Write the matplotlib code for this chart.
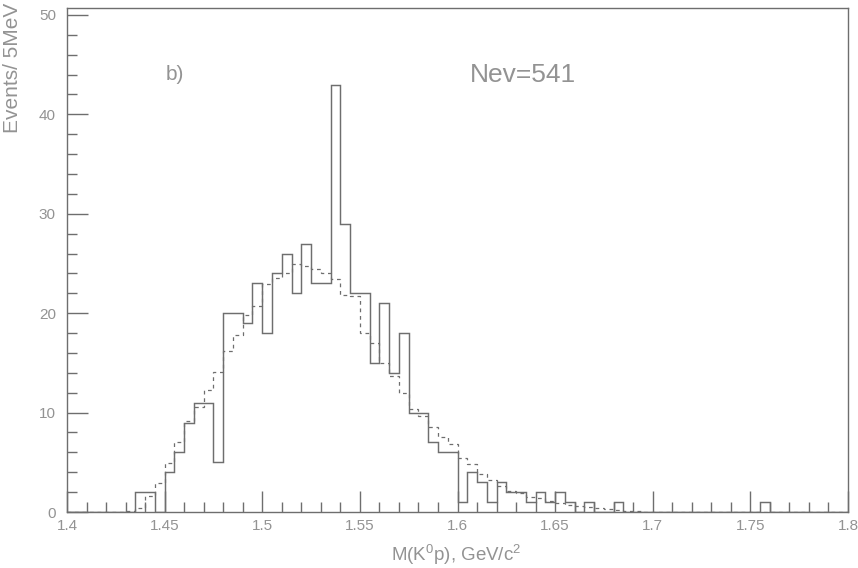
import numpy as np
import matplotlib
matplotlib.use("Agg")
import matplotlib.pyplot as plt
from matplotlib.ticker import MultipleLocator

plt.rcParams['font.family'] = ['Liberation Sans', 'DejaVu Sans']
plt.rcParams['mathtext.fontset'] = 'custom'
plt.rcParams['mathtext.rm'] = 'Liberation Sans'
plt.rcParams['mathtext.it'] = 'Liberation Sans'

# 5 MeV bins from 1.40 to 1.80 GeV
mass_lo = 1.40
mass_hi = 1.80
n_bins = 80

counts = [0, 0, 0, 0, 0, 0, 0, 2, 2, 0,
          4, 6, 9, 11, 11, 5, 20, 20, 19, 23,
          18, 24, 26, 22, 27, 23, 23, 43, 29, 22,
          22, 15, 21, 14, 18, 10, 10, 7, 6, 6,
          1, 4, 3, 1, 3, 2, 2, 1, 2, 1,
          2, 1, 0, 1, 0, 0, 1, 0, 0, 0,
          0, 0, 0, 0, 0, 0, 0, 0, 0, 0,
          0, 1, 0, 0, 0, 0, 0, 0, 0, 0]

background = [0, 0, 0, 0, 0, 0, 0.1, 0.4, 1.6, 2.9,
              4.9, 7.0, 9.2, 10.6, 12.3, 14.1, 16.2, 17.8, 19.8, 20.7,
              22.9, 23.5, 24.0, 24.9, 24.7, 24.4, 24.0, 23.4, 21.8, 21.7,
              18.0, 17.0, 15.0, 13.7, 12.0, 10.4, 9.7, 8.6, 7.5, 6.8,
              5.4, 4.8, 3.8, 3.2, 2.6, 2.1, 1.9, 1.5, 1.4, 1.1,
              0.9, 0.7, 0.6, 0.5, 0.4, 0.3, 0.2, 0.15, 0.1, 0.05,
              0, 0, 0, 0, 0, 0, 0, 0, 0, 0,
              0, 0, 0, 0, 0, 0, 0, 0, 0, 0]

x_ticks = [1.4, 1.45, 1.5, 1.55, 1.6, 1.65, 1.7, 1.75, 1.8]
x_ticklabels = ["1.4", "1.45", "1.5", "1.55", "1.6", "1.65", "1.7", "1.75", "1.8"]
y_ticks = [0, 10, 20, 30, 40, 50]

edges = np.linspace(mass_lo, mass_hi, n_bins + 1)

line_col = '#6e6e6e'
text_col = '#939393'

fig = plt.figure(figsize=(8.58, 5.68), dpi=100)
ax = fig.add_axes([67/858, 1 - 512/568, (848 - 67)/858, (512 - 8)/568])

ax.stairs(counts, edges, color=line_col, lw=1.05)
ax.stairs(background, edges, color=line_col, lw=0.9, linestyle=(0, (3, 3)))

ax.set_xlim(mass_lo, mass_hi)
ax.set_ylim(0, 50.7)

ax.set_xticks(x_ticks)
ax.set_xticklabels(x_ticklabels)
ax.set_yticks(y_ticks)
ax.xaxis.set_minor_locator(MultipleLocator(0.01))
ax.yaxis.set_minor_locator(MultipleLocator(2))

ax.tick_params(which='major', direction='in', length=15, width=1.0, color=line_col,
               labelcolor=text_col, labelsize=11)
ax.tick_params(which='minor', direction='in', length=7, width=1.0, color=line_col)
ax.tick_params(axis='x', which='major', pad=5)
ax.tick_params(axis='y', which='major', pad=8)

for sp in ax.spines.values():
    sp.set_color(line_col)
    sp.set_linewidth(1.0)

ax.text(166/858, 1 - 80/568, "b)", transform=fig.transFigure, fontsize=15,
        color=text_col, ha='left', va='baseline')
ax.text(470/858, 1 - 82/568, "Nev=541", transform=fig.transFigure, fontsize=19,
        color=text_col, ha='left', va='baseline')

fig.text(13/858, 1 - 3/568, "Events/ 5MeV", rotation=90, ha='center', va='top',
         fontsize=15, color=text_col)
fig.text(456/858, 1 - 561/568, r"M(K$^0$p), GeV/c$^2$", ha='center', va='baseline',
         fontsize=13.5, color=text_col)

fig.savefig("out.png", dpi=100)
